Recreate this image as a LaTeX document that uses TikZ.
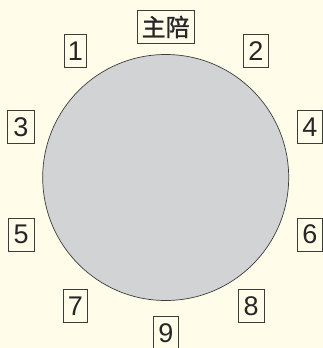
\documentclass[tikz,border=0pt]{standalone}
\usepackage{fontspec}
\setmainfont{Liberation Sans}
\newfontfamily\cjkfont[FakeBold=1.2]{Noto Sans CJK SC}
\usetikzlibrary{positioning}
\definecolor{paper}{RGB}{255,252,234}
\definecolor{tablegray}{RGB}{209,211,212}
\definecolor{edgegray}{RGB}{60,60,60}

\begin{document}
\begin{tikzpicture}[
    x=1pt, y=-1pt,
    seat/.style={draw=edgegray, line width=0.8pt, fill=paper, minimum height=32.7pt, minimum width=25.5pt, inner xsep=2pt, inner ysep=0pt, font=\fontsize{27}{27}\selectfont, text=black!85},
    table/.style={draw=edgegray, line width=0.7pt, fill=tablegray}
]
\fill[paper] (0,0) rectangle (323,348);
\useasboundingbox (0,0) rectangle (323,348);

\node[table, circle, minimum size=246pt, inner sep=0pt] (tbl) at (165.7,177.5) {};

\node[seat, font=\cjkfont\fontsize{24}{24}\selectfont, minimum width=56.7pt] (host) at (165.7,27) {主陪};
\node[seat, minimum width=22.3pt] (s1) at (75.5,51) {1};
\node[seat] (s2) at (255.8,51) {2};
\node[seat, minimum width=27pt] (s3) at (20.8,127) {3};
\node[seat] (s4) at (309.8,127) {4};
\node[seat, minimum width=26.3pt] (s5) at (21.2,234.7) {5};
\node[seat] (s6) at (309.8,234.7) {6};
\node[seat, minimum width=24.3pt] (s7) at (75.5,306) {7};
\node[seat] (s8) at (251.2,306) {8};
\node[seat, minimum width=25pt] (s9) at (165.8,333) {9};
\end{tikzpicture}
\end{document}
